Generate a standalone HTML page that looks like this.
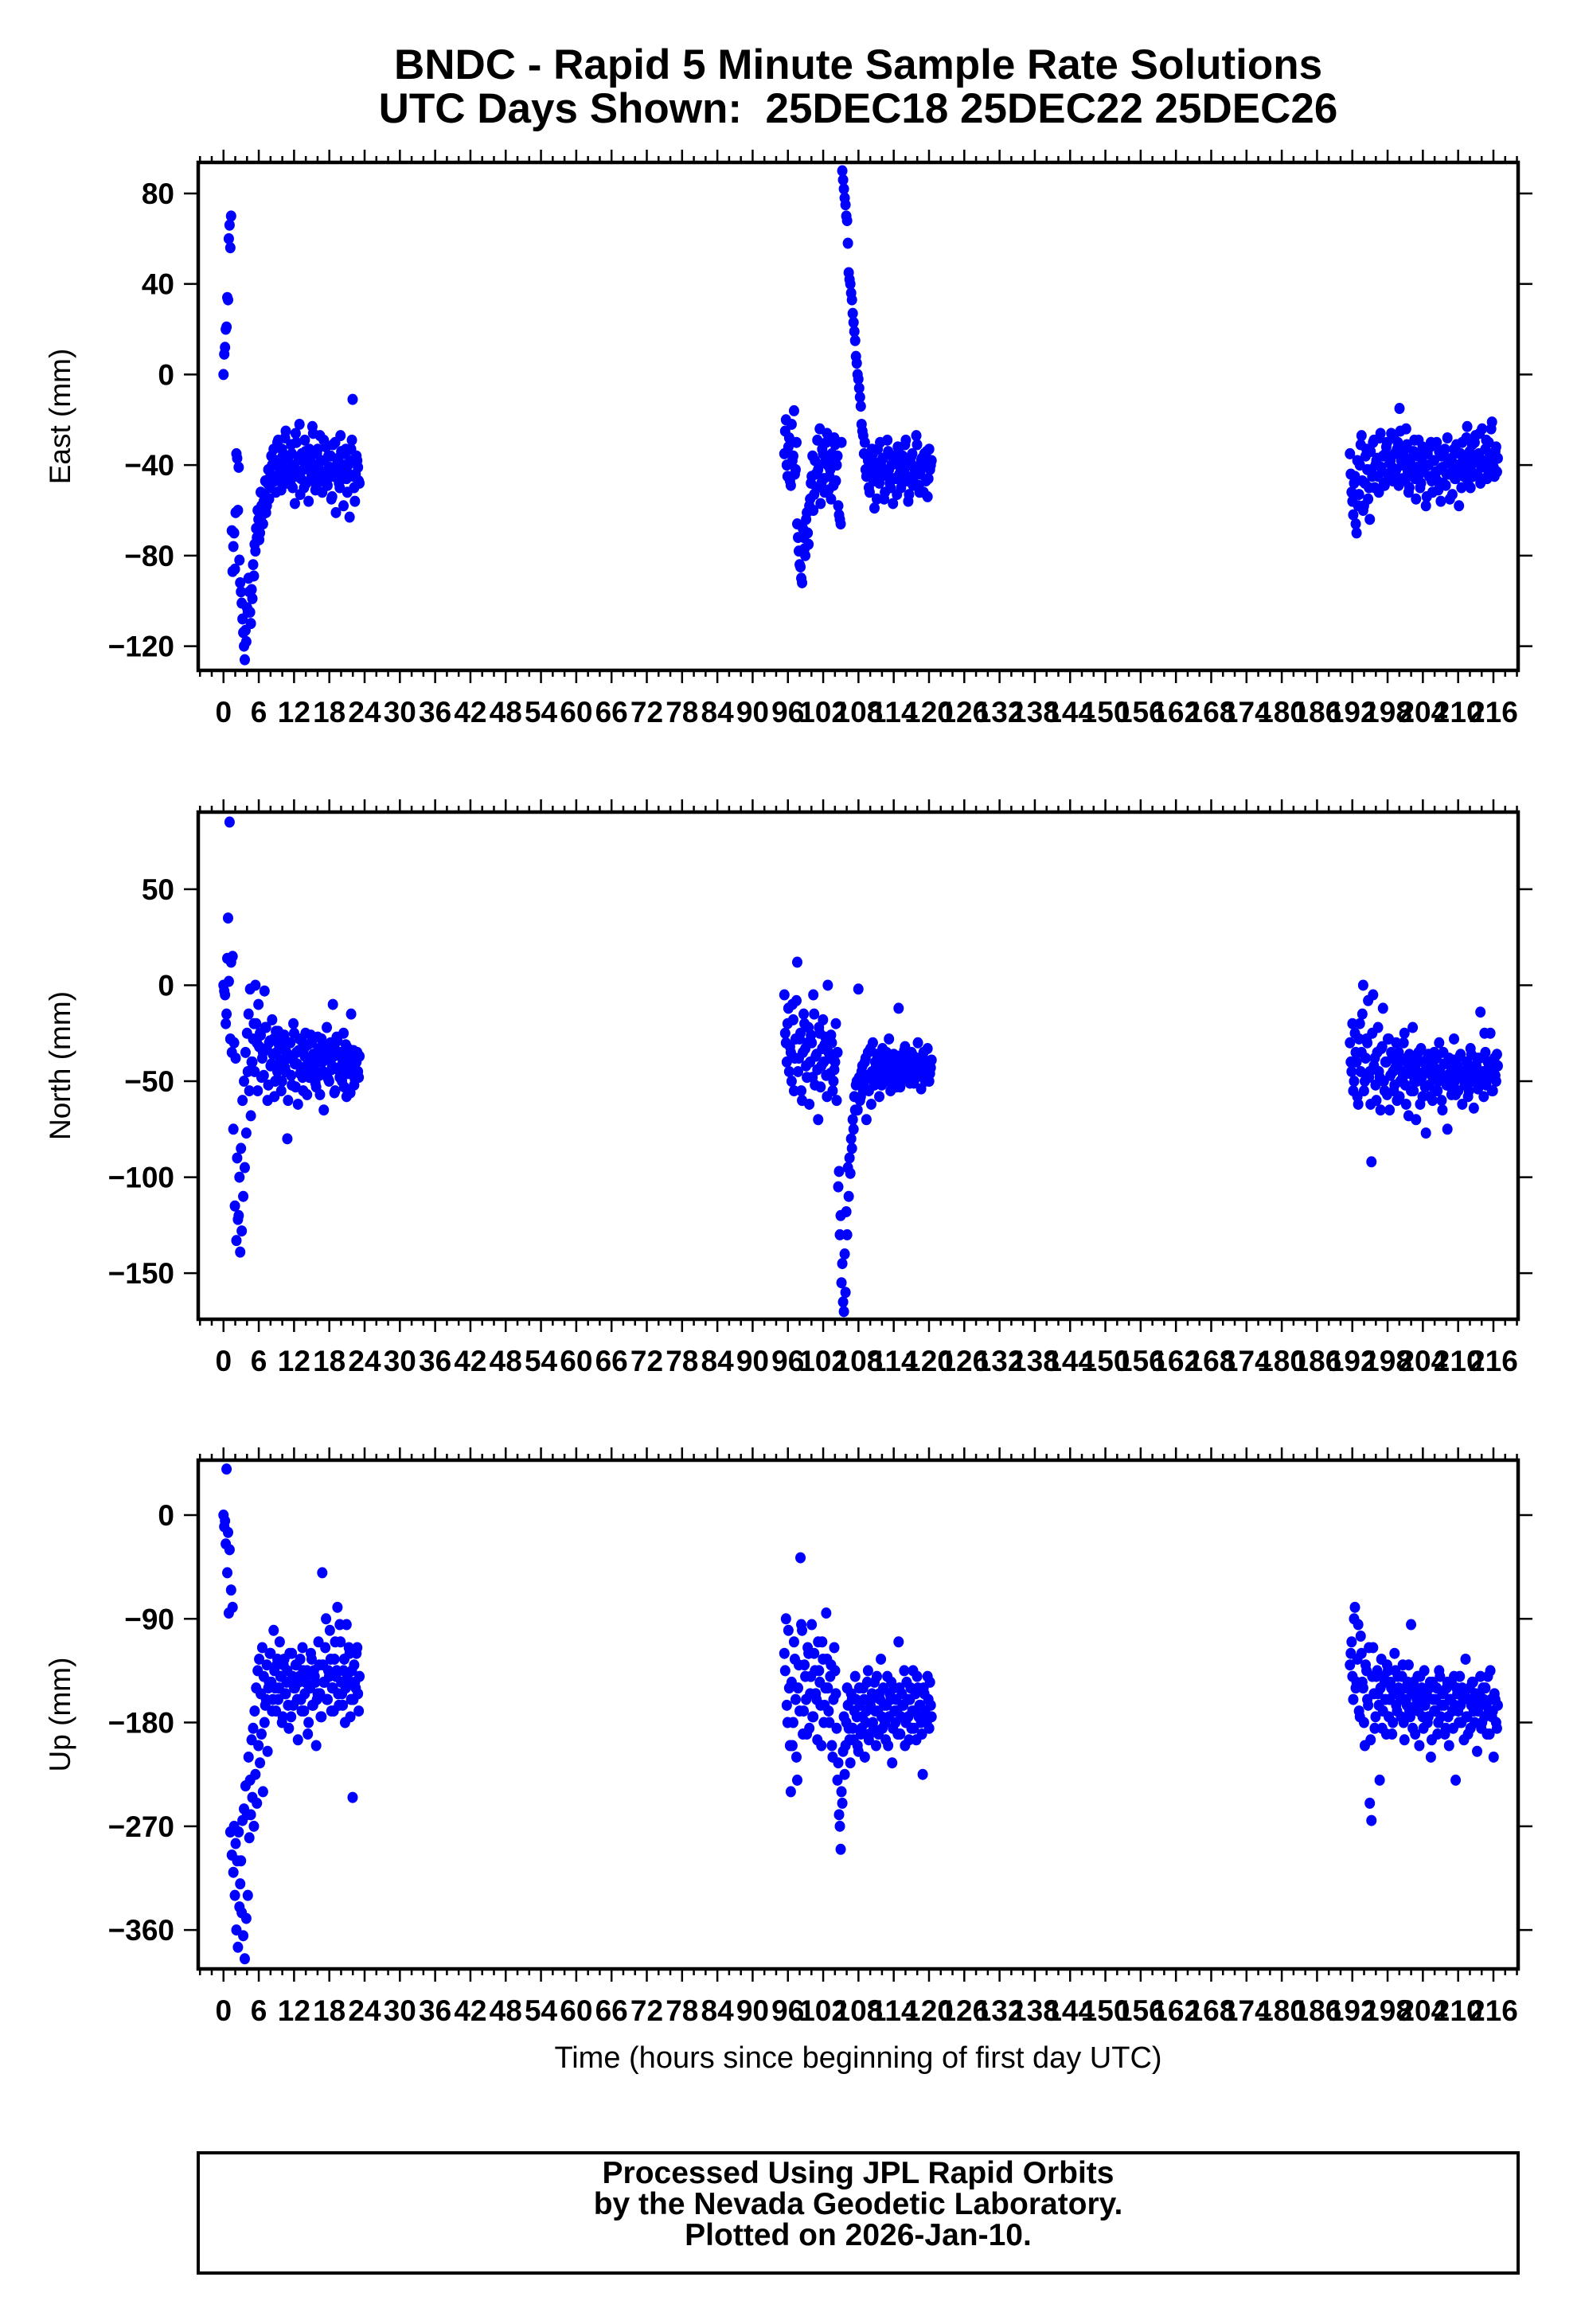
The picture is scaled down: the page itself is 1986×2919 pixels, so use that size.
<!DOCTYPE html>
<html><head><meta charset="utf-8"><title>BNDC Rapid 5 Minute Solutions</title>
<style>
html,body{margin:0;padding:0;background:#fff;}
svg{display:block;font-family:"Liberation Sans",Arial,sans-serif;}
</style></head>
<body>
<svg id="chart" xmlns="http://www.w3.org/2000/svg" width="1986" height="2919" viewBox="0 0 1986 2919">
<rect x="0" y="0" width="1986" height="2919" fill="#fff"/>
<text x="1078" y="99" text-anchor="middle" font-size="53" font-weight="bold">BNDC - Rapid 5 Minute Sample Rate Solutions</text>
<text x="1078" y="154" text-anchor="middle" font-size="53" font-weight="bold" xml:space="preserve">UTC Days Shown:  25DEC18 25DEC22 25DEC26</text>
<g id="panels"></g>
<text x="1078" y="2597" text-anchor="middle" font-size="38">Time (hours since beginning of first day UTC)</text>
<rect x="249" y="2704" width="1658" height="151" fill="none" stroke="#000" stroke-width="4"/>
<text x="1078" y="2742" text-anchor="middle" font-size="39" font-weight="bold">Processed Using JPL Rapid Orbits</text>
<text x="1078" y="2781" text-anchor="middle" font-size="39" font-weight="bold">by the Nevada Geodetic Laboratory.</text>
<text x="1078" y="2820" text-anchor="middle" font-size="39" font-weight="bold">Plotted on 2026-Jan-10.</text>
</svg>
<script>
const clusterSpans = [[0, 23], [95.4, 120.3], [191.6, 216.6]];
const xTickLabels = [0,6,12,18,24,30,36,42,48,54,60,66,72,78,84,90,96,102,108,114,120,126,132,138,144,150,156,162,168,174,180,186,192,198,204,210,216];
const eastTicks = [80, 40, 0, -40, -80, -120];
const northTicks = [50, 0, -50, -100, -150];
const upTicks = [0, -90, -180, -270, -360];

const east1 = [0,12,21,33,66,70,-87,-70,-61,-37,-41,-92,-101,-114,-126,-118,-105,-96,-110,-99,-89,-78,-72,-64,-70,-58,-66,-53,-61,-48,-55,-44,
-40,-33,-47,-38,-29,-44,-51,-36,-42,-25,-45,-39,-48,-35,-41,-57,-30,-43,-22,-46,-38,-50,-34,-41,-56,-37,-44,-26,-40,-49,-33,-45,-38,-52,-29,-43,-47,-36,-41,-55,-31,-44,-61,-39,-48,-27,-42,-58,-35,-46,-40,-63,-33,-11,-50,-44,-38,-47];
const east1b = [9,20,34,60,56,-69,-76,-86,-35,-60,-82,-96,-108,-120,-113,-103,-90,-105,-95,-84,-75,-68,-60,-73,-52,-62,-56,-47,-58,-42,-50,-36,
-45,-38,-52,-30,-41,-47,-33,-39,-28,-48,-36,-43,-31,-50,-40,-26,-45,-37,-53,-35,-42,-29,-48,-39,-33,-46,-23,-43,-51,-35,-40,-27,-47,-44,-38,-32,-49,-41,-36,-54,-45,-30,-42,-37,-50,-34,-46,-40,-33,-52,-44,-38,-29,-45,-56,-36,-41,-48];
const east2 = [-35,-20,-45,-28,-49,-38,-16,-42,-66,-78,-85,-92,-72,-80,-61,-75,
-55,-45,-60,-38,-50,-42,-24,-48,-35,-52,-30,-40,-45,-55,-38,-28,-47,-36,-62,-66,
90,82,75,68,45,40,33,23,15,5,-2,-10,-22,-27,
-30,-45,-38,-52,-41,-35,-59,-43,-33,-48,-40,-37,-55,-44,-29,-42,-50,-36,-46,-39,-53,-34,-41,-47,-38,-31,-45,-56,-40,-36,-49,-43,-27,-44,-52,-38,-41,-35,-47,-54,-33,-40];
const east2b = [-25,-40,-32,-47,-22,-36,-44,-30,-72,-84,-90,-68,-77,-64,-70,-58,-48,-36,-53,-44,-29,-40,-57,-33,-46,-38,-26,-51,-42,-35,-49,-31,-40,-58,-64,-30,86,78,70,58,42,36,27,19,8,0,-6,-14,-25,-35,
-42,-36,-50,-44,-33,-47,-39,-55,-41,-30,-45,-37,-52,-43,-34,-48,-40,-57,-38,-46,-32,-44,-50,-36,-42,-29,-47,-53,-39,-35,-45,-41,-31,-49,-44,-37,-52,-40,-34,-46,-42,-38];
const east3 = [-35,-52,-62,-45,-70,-58,-40,-27,-60,-48,-33,-55,-64,-42,-30,-50,-38,-45,-28,-41,-36,-49,-32,-44,-39,-26,-47,-35,-42,-30,-15,-38,-46,-33,-24,-43,-50,-37,-41,-29,-55,-36,-44,-48,-32,-40,-58,-35,-45,-30,-52,-38,-43,-47,-34,-56,-41,-36,-49,-28,-44,-39,-53,-33,-46,-40,-58,-35,-30,-45,-37,-23,-42,-50,-31,-38,-27,-44,-35,-48,-24,-40,-33,-46,-30,-37,-21,-41,-34,-43];
const east3b = [-44,-56,-48,-66,-38,-53,-31,-47,-58,-36,-42,-50,-34,-45,-29,-40,-37,-52,-26,-43,-48,-35,-30,-45,-38,-41,-28,-44,-33,-49,-25,-40,-36,-47,-31,-52,-39,-44,-34,-46,-41,-29,-50,-37,-43,-35,-54,-40,-32,-47,-38,-45,-30,-51,-42,-36,-48,-33,-44,-39,-55,-37,-41,-46,-31,-43,-35,-50,-38,-42,-28,-47,-34,-40,-45,-30,-44,-36,-26,-41,-38,-46,-29,-42,-35,-24,-39,-45,-32,-37];

const north1 = [0,-5,-15,35,85,12,15,-30,-38,-90,-120,-139,-128,-110,-95,-77,-45,-55,-68,-40,-20,0,-30,-10,-25,-48,-35,-3,-22,-60,-30,-42,-18,-28,-50,-35,-24,-40,-55,-32,-26,-45,-80,-38,-30,-52,-20,-41,-35,-62,-28,-44,-48,-33,-25,-57,-39,-46,-30,-36,-42,-53,-27,-47,-35,-40,-65,-31,-22,-49,-38,-44,-10,-56,-34,-29,-43,-37,-50,-25,-41,-58,-33,-46,-15,-39,-52,-44,-35,-48];
const north1b = [-3,-20,14,2,-28,-35,-75,-115,-133,-122,-100,-85,-60,-50,-35,-25,-15,-2,-40,-28,-45,-20,-55,-32,-26,-38,-47,-22,-33,-52,-29,-41,-36,-58,-24,-45,-31,-39,-50,-27,-43,-35,-60,-30,-47,-38,-25,-53,-41,-34,-46,-29,-55,-37,-42,-31,-48,-26,-44,-36,-51,-40,-33,-57,-28,-45,-39,-47,-34,-50,-30,-42,-37,-55,-27,-44,-48,-35,-40,-53,-31,-46,-38,-56,-42,-34,-49,-40,-45,-37];
const north2 = [-5,-30,-20,-45,-35,-10,-55,-28,12,-38,-25,-60,-15,-33,-48,-22,-40,-30,-5,-52,-36,-70,-25,-42,-18,-31,-47,0,-38,-26,-55,-44,-20,-35,-97,-120,-145,-170,-160,-130,-110,-98,-85,-75,-65,-50,-2,-60,-45,-55,-40,-70,-35,-48,-62,-30,-52,-42,-38,-58,-45,-33,-50,-40,-47,-28,-55,-43,-36,-49,-41,-12,-53,-38,-45,-32,-46,-40,-51,-35,-44,-39,-48,-30,-42,-54,-37,-45,-40,-33,-50,-43];
const north2b = [-25,-40,-12,-32,-50,-18,-38,-8,-45,-28,-55,-35,-20,-42,-30,-62,-26,-48,-15,-37,-44,-22,-53,-33,-40,-27,-58,-35,-46,-30,-50,-40,-60,-105,-130,-155,-165,-140,-118,-95,-90,-80,-70,-58,-52,-65,-48,-58,-42,-52,-38,-47,-55,-33,-45,-50,-40,-36,-48,-43,-52,-38,-45,-35,-50,-42,-47,-39,-44,-53,-37,-46,-41,-49,-34,-43,-48,-39,-45,-36,-51,-42,-38,-47,-40,-44,-35,-50,-43,-41,-46,-39];
const north3 = [-30,-45,-55,-25,-40,-62,-20,-35,0,-50,-28,-8,-45,-92,-5,-38,-60,-22,-48,-33,-12,-55,-40,-28,-65,-35,-45,-52,-30,-42,-58,-38,-48,-25,-62,-44,-36,-55,-22,-50,-70,-40,-47,-33,-58,-45,-77,-38,-52,-43,-60,-35,-48,-55,-30,-46,-65,-41,-50,-75,-38,-53,-44,-28,-57,-42,-48,-36,-62,-45,-50,-40,-55,-33,-47,-64,-42,-38,-52,-14,-46,-58,-35,-49,-43,-25,-55,-40,-47,-36];
const north3b = [-40,-20,-50,-35,-58,-28,-45,-15,-55,-38,-30,-48,-62,-25,-42,-52,-35,-45,-65,-32,-50,-40,-57,-28,-47,-38,-55,-43,-60,-35,-50,-45,-30,-52,-40,-68,-46,-38,-55,-43,-50,-35,-62,-48,-40,-53,-45,-36,-58,-47,-42,-55,-38,-50,-44,-60,-35,-48,-52,-41,-46,-57,-39,-50,-43,-55,-37,-48,-45,-52,-40,-58,-44,-36,-50,-46,-42,-54,-38,-48,-45,-25,-52,-40,-47,-43,-55,-38,-50,-42];

const up1 = [0,-5,40,-15,-30,-65,-80,-270,-285,-300,-275,-320,-345,-365,-385,-350,-330,-280,-260,-245,-270,-225,-250,-200,-215,-190,-240,-180,-160,-205,-145,-120,-170,-100,-150,-130,-160,-110,-140,-175,-125,-155,-135,-185,-145,-120,-165,-150,-130,-195,-140,-160,-115,-170,-145,-135,-180,-150,-125,-165,-140,-200,-155,-130,-175,-50,-145,-115,-160,-135,-100,-170,-150,-125,-140,-80,-165,-110,-155,-135,-180,-95,-145,-120,-160,-245,-130,-150,-115,-170];
const up1b = [-10,-25,-50,-85,-275,-295,-310,-330,-360,-375,-340,-300,-265,-255,-235,-260,-210,-230,-195,-185,-170,-150,-135,-125,-155,-115,-140,-165,-130,-150,-120,-145,-160,-135,-170,-125,-150,-140,-180,-130,-155,-145,-165,-120,-175,-140,-150,-130,-160,-145,-125,-170,-135,-155,-140,-190,-150,-120,-165,-135,-145,-160,-110,-155,-175,-130,-145,-90,-160,-140,-125,-150,-170,-110,-135,-155,-95,-145,-165,-125,-150,-140,-115,-175,-135,-160,-145,-120,-155,-140];
const up2 = [-120,-90,-180,-150,-240,-200,-110,-160,-230,-130,-37,-100,-170,-140,-190,-120,-155,-95,-175,-135,-160,-110,-145,-200,-125,-165,-85,-150,-180,-130,-210,-115,-155,-230,-260,-290,-250,-175,-200,-150,-185,-215,-160,-195,-140,-175,-205,-165,-185,-150,-210,-170,-135,-190,-160,-180,-145,-200,-170,-155,-125,-185,-165,-195,-140,-175,-160,-215,-150,-180,-170,-110,-190,-155,-165,-200,-145,-175,-160,-185,-135,-170,-195,-150,-165,-180,-225,-155,-175,-140,-185,-165];
const up2b = [-135,-165,-100,-200,-145,-180,-125,-210,-150,-170,-95,-190,-130,-160,-115,-185,-140,-175,-120,-155,-195,-135,-165,-110,-180,-150,-125,-170,-140,-200,-160,-135,-185,-215,-270,-240,-205,-225,-180,-165,-195,-155,-185,-170,-160,-200,-150,-190,-175,-160,-180,-145,-195,-165,-155,-185,-170,-140,-190,-160,-175,-150,-180,-165,-200,-155,-145,-185,-170,-160,-190,-150,-175,-165,-135,-180,-160,-195,-150,-170,-185,-155,-140,-175,-165,-190,-150,-170,-180,-160,-145,-175];
const up3 = [-130,-110,-160,-80,-145,-95,-175,-120,-150,-200,-135,-165,-250,-265,-115,-185,-140,-155,-230,-125,-170,-145,-190,-135,-160,-150,-180,-120,-165,-140,-155,-175,-130,-195,-160,-145,-170,-95,-185,-150,-165,-140,-200,-155,-175,-135,-160,-180,-150,-210,-145,-170,-160,-190,-135,-175,-155,-165,-185,-145,-200,-160,-170,-140,-230,-155,-180,-165,-150,-195,-125,-175,-160,-185,-145,-170,-155,-205,-165,-140,-180,-160,-150,-190,-170,-135,-175,-210,-160,-185];
const up3b = [-120,-140,-90,-150,-125,-170,-105,-145,-180,-130,-160,-115,-195,-140,-155,-175,-135,-165,-150,-185,-140,-160,-130,-175,-145,-190,-155,-135,-170,-150,-160,-140,-180,-150,-165,-130,-175,-155,-145,-190,-160,-170,-140,-150,-185,-165,-155,-175,-145,-195,-160,-170,-150,-180,-140,-165,-155,-190,-150,-175,-160,-145,-185,-165,-150,-170,-140,-180,-160,-155,-175,-190,-150,-165,-145,-180,-160,-170,-155,-185,-150,-175,-165,-140,-190,-160,-170,-155,-180,-165];

const NS = 'http://www.w3.org/2000/svg';
const X0 = 249, X1 = 1907, XMIN = -4.3, XMAX = 220.2;
function xScale(h){ return X0 + (h - XMIN) / (XMAX - XMIN) * (X1 - X0); }
function mk(tag, attrs){ const e = document.createElementNS(NS, tag); for (const k in attrs) e.setAttribute(k, attrs[k]); return e; }

const panels = [
  {key:'east', label:'East (mm)', top:204, bottom:842, vmax:93.7, vmin:-130.7, ticks:eastTicks, series:[east1, east2, east3], seriesB:[east1b, east2b, east3b], labelY:894},
  {key:'north', label:'North (mm)', top:1020, bottom:1657, vmax:90.2, vmin:-174, ticks:northTicks, series:[north1, north2, north3], seriesB:[north1b, north2b, north3b], labelY:1709},
  {key:'up', label:'Up (mm)', top:1834, bottom:2473, vmax:47.7, vmin:-393.8, ticks:upTicks, series:[up1, up2, up3], seriesB:[up1b, up2b, up3b], labelY:2525}
];

const root = document.getElementById('panels');
panels.forEach(p => {
  const yScale = v => p.top + (p.vmax - v) / (p.vmax - p.vmin) * (p.bottom - p.top);
  const g = mk('g', {});
  
  
  root.appendChild(g);

  const tg = mk('g', {stroke:'#000', 'stroke-width':'2.5'});
  
  
  g.appendChild(tg);
  for (let h = -4; h <= 220; h += 2) {
    const x = xScale(h);
    const len = (h % 6 === 0) ? 16 : 8;
    tg.appendChild(mk('line', {x1:x, x2:x, y1:p.top, y2:p.top - len}));
    tg.appendChild(mk('line', {x1:x, x2:x, y1:p.bottom, y2:p.bottom + len}));
  }
  xTickLabels.forEach(h => {
    const t = mk('text', {x:xScale(h), y:p.labelY + 13, 'text-anchor':'middle', 'font-size':'37', 'font-weight':'bold'});
    
    
    t.textContent = h;
    g.appendChild(t);
  });
  p.ticks.forEach(v => {
    const y = yScale(v);
    g.appendChild(mk('line', {x1:X0 - 18, x2:X0, y1:y, y2:y, stroke:'#000', 'stroke-width':'2.5'}));
    g.appendChild(mk('line', {x1:X1, x2:X1 + 18, y1:y, y2:y, stroke:'#000', 'stroke-width':'2.5'}));
    const t = mk('text', {x:219, y:y + 13, 'text-anchor':'end', 'font-size':'37', 'font-weight':'bold'});
    
    
    t.textContent = v < 0 ? '\u2212' + Math.abs(v) : String(v);
    g.appendChild(t);
  });
  const cy = (p.top + p.bottom) / 2;
  const yt = mk('text', {x:76, y:cy, 'text-anchor':'middle', 'font-size':'37', transform:'rotate(-90 76 ' + cy + ')', dy:'12'});
  
  
  yt.textContent = p.label;
  g.appendChild(yt);

  const pg = mk('g', {fill:'#0000ff'});
  
  
  g.appendChild(pg);
  function drawSet(sets, offset) {
    sets.forEach((vals, ci) => {
      const s = clusterSpans[ci];
      const n = vals.length;
      const step = (s[1] - s[0]) / (n - 1);
      vals.forEach((v, i) => {
        const h = s[0] + (i + offset) * step;
        const c = mk('ellipse', {cx:xScale(h), cy:yScale(v), rx:6.5, ry:7});
        
        
        pg.appendChild(c);
      });
    });
  }
  drawSet(p.series, 0);
  drawSet(p.seriesB, 0.5);

  const fr = mk('rect', {x:X0, y:p.top, width:X1 - X0, height:p.bottom - p.top, fill:'none', stroke:'#000', 'stroke-width':'4.5'});
  
  
  g.appendChild(fr);
});
</script>
</body></html>
